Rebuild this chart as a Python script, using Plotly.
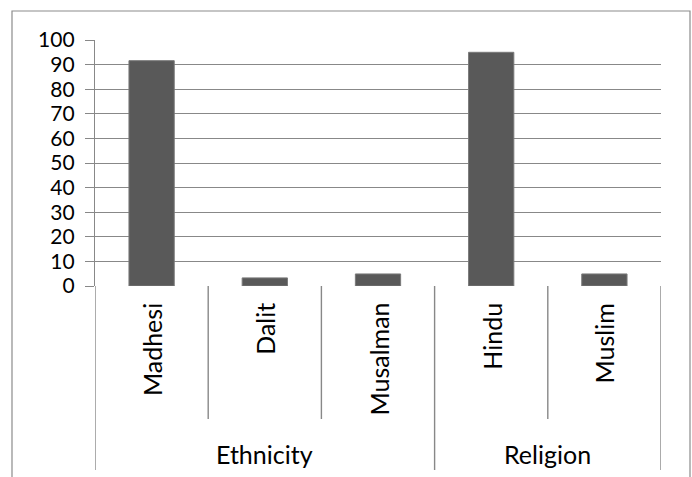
import plotly.graph_objects as go

groups = ["Ethnicity", "Ethnicity", "Ethnicity", "Religion", "Religion"]
categories = ["Madhesi", "Dalit", "Musalman", "Hindu", "Muslim"]
values = [91.6, 3.3, 4.9, 95.0, 4.9]
y_ticks = [0, 10, 20, 30, 40, 50, 60, 70, 80, 90, 100]

FONT = "Lato"
FS_CAT = 25
FS_Y = 21
GRID = "#888888"

# plot-area geometry (pixels) used to convert to paper coords
L, R, T, B = 95, 661, 40, 286
W, H = 692, 477
ph = B - T


def py(p):
    return (B - p) / ph


def px(p):
    return (p - L) / (R - L)


xs = list(range(len(categories)))

fig = go.Figure()
fig.add_trace(go.Bar(
    x=xs, y=values, width=0.4,
    marker=dict(color="#595959", line=dict(color="#7a7a7a", width=1)),
))

shapes = []
# outer chart border
shapes.append(dict(type="rect", xref="paper", yref="paper",
                   x0=px(12), x1=px(690), y0=py(490), y1=py(11),
                   line=dict(color="#8c8c8c", width=1.2), fillcolor="rgba(0,0,0,0)", layer="below"))

# separators: inner boundaries short, group boundaries long
n = len(categories)
for i in range(n + 1):
    b = i - 0.5
    if i == 0 or i == n or groups[i] != groups[i - 1]:
        yb = py(470)
    else:
        yb = py(419)
    shapes.append(dict(type="line", xref="x", yref="paper", x0=b, x1=b, y0=0, y1=yb,
                       line=dict(color=GRID, width=1.4)))

annotations = []
for i, c in enumerate(categories):
    annotations.append(dict(x=i, xref="x", y=py(301), yref="paper", text=c,
                            textangle=-90, showarrow=False, xanchor="center", yanchor="top",
                            font=dict(family=FONT, size=FS_CAT, color="black")))

# group labels
seen = []
for g in groups:
    if g not in seen:
        seen.append(g)
for g in seen:
    idx = [i for i, gg in enumerate(groups) if gg == g]
    cx = (idx[0] + idx[-1]) / 2
    annotations.append(dict(x=cx, xref="x", y=py(454), yref="paper", text=g,
                            showarrow=False, xanchor="center", yanchor="middle",
                            font=dict(family=FONT, size=FS_CAT, color="black")))

fig.update_layout(
    width=W, height=H,
    margin=dict(l=L, r=W - R, t=T, b=H - B, pad=0),
    paper_bgcolor="white", plot_bgcolor="white",
    showlegend=False,
    shapes=shapes, annotations=annotations,
    xaxis=dict(range=[-0.5, n - 0.5], showticklabels=False, showgrid=False,
               zeroline=False, showline=False, ticks=""),
    yaxis=dict(range=[0, 100], tickvals=y_ticks, ticktext=[str(v) for v in y_ticks],
               showgrid=True, gridcolor=GRID, gridwidth=1.4,
               zeroline=False, showline=True, linecolor=GRID, linewidth=1.4,
               ticks="outside", ticklen=9, tickcolor=GRID, tickwidth=1.4,
               ticklabelstandoff=6,
               tickfont=dict(family=FONT, size=FS_Y, color="black")),
    bargap=0.6,
)

fig.write_html("out.html")
